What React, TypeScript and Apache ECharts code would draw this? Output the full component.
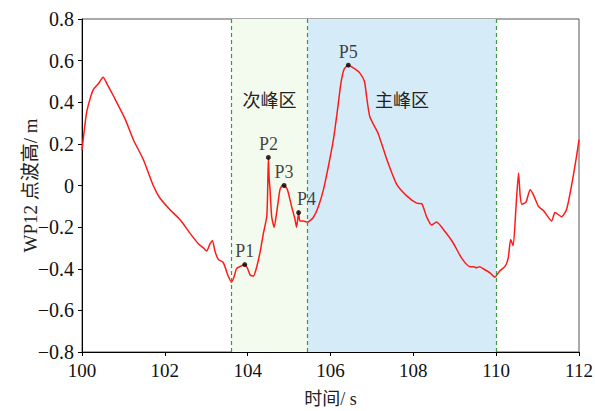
import React, { useEffect, useRef } from "react";
import * as echarts from "echarts";

const times = [
  100.0, 100.11, 100.2, 100.27, 100.4, 100.51, 100.6, 100.76, 101.04, 101.24, 101.48, 101.72, 101.88,
  102.12, 102.37, 102.61, 102.81, 102.93, 103.01, 103.09, 103.15, 103.21, 103.29, 103.41, 103.53, 103.61,
  103.67, 103.73, 103.81, 103.93, 104.0, 104.06, 104.14, 104.22, 104.3, 104.34, 104.38, 104.46, 104.48,
  104.5, 104.52, 104.54, 104.58, 104.64, 104.7, 104.78, 104.84, 104.88, 104.96, 105.06, 105.14, 105.18,
  105.21, 105.23, 105.26, 105.34, 105.44, 105.58, 105.71, 105.83, 105.95, 106.07, 106.17, 106.25, 106.33,
  106.43, 106.59, 106.71, 106.82, 106.87, 106.95, 107.15, 107.36, 107.6, 107.84, 108.08, 108.2, 108.32,
  108.44, 108.56, 108.76, 108.96, 109.17, 109.37, 109.45, 109.53, 109.6, 109.69, 109.85, 109.97, 110.09,
  110.21, 110.29, 110.35, 110.41, 110.48, 110.54, 110.58, 110.62, 110.72, 110.82, 110.9, 111.02, 111.14,
  111.34, 111.42, 111.58, 111.7, 111.82, 111.94, 112.0,
];
const elevation = [
  0.17, 0.35, 0.42, 0.46, 0.49, 0.52, 0.49, 0.43, 0.32, 0.22, 0.125, 0.0, -0.06,
  -0.115, -0.165, -0.23, -0.28, -0.3, -0.315, -0.28, -0.265, -0.315, -0.355, -0.37, -0.435, -0.465,
  -0.44, -0.4, -0.39, -0.38, -0.4, -0.43, -0.435, -0.39, -0.32, -0.275, -0.23, -0.15, -0.05,
  0.135, 0.03, -0.02, -0.15, -0.2, -0.13, -0.02, 0.0, 0.0, -0.02, -0.1, -0.16, -0.2,
  -0.16, -0.13, -0.17, -0.17, -0.176, -0.155, -0.1, -0.02, 0.093, 0.22, 0.365, 0.49, 0.56,
  0.578, 0.56, 0.54, 0.5, 0.43, 0.33, 0.25, 0.125, 0.005, -0.05, -0.085, -0.087, -0.15,
  -0.19, -0.175, -0.22, -0.275, -0.35, -0.39, -0.39, -0.395, -0.39, -0.4, -0.42, -0.44, -0.41,
  -0.39, -0.35, -0.26, -0.29, -0.1, 0.06, -0.05, -0.09, -0.08, -0.02, -0.045, -0.1, -0.12,
  -0.17, -0.13, -0.15, -0.115, 0.0, 0.14, 0.22,
];

const peakNames = ["P1", "P2", "P3", "P4", "P5"];
const peakTimes = [103.93, 104.5, 104.88, 105.23, 106.43];
const peakValues = [-0.38, 0.135, 0.0, -0.13, 0.578];

const regionNames = ["次峰区", "主峰区"];
const regionStarts = [103.6, 105.45];
const regionEnds = [105.45, 110];
const dividerTimes = [103.6, 105.45, 110];

const FONT = "'Liberation Serif', 'Times New Roman', 'Noto Sans CJK SC', serif";

export default function App() {
  const ref = useRef<HTMLDivElement>(null);
  useEffect(() => {
    if (!ref.current) return;
    const chart = echarts.init(ref.current, null, { renderer: "svg" });
    const fmtY = (v: number) => {
      const r = Math.round(v * 10) / 10;
      if (r === 0) return "0";
      return (r < 0 ? "\u2212" : "") + Math.abs(r).toFixed(1);
    };
    const regionColors = ["#f2fbee", "#d6ebf8"];
    chart.setOption({
      animation: false,
      textStyle: { fontFamily: FONT },
      grid: {
        left: 82,
        right: 16,
        top: 19,
        bottom: 59,
        containLabel: false,
        outerBoundsMode: "none",
        show: true,
        borderColor: "#555",
        borderWidth: 1,
        backgroundColor: "transparent",
      },
      xAxis: {
        type: "value",
        min: 100,
        max: 112,
        interval: 2,
        name: "时间/ s",
        nameLocation: "middle",
        nameGap: 38,
        nameMoveOverlap: false,
        nameTextStyle: { fontFamily: FONT, fontSize: 18, color: "#222" },
        axisLine: { show: true, onZero: false, lineStyle: { color: "#000", width: 1 } },
        axisTick: { show: true, inside: false, length: 4, lineStyle: { color: "#000" } },
        axisLabel: { fontFamily: FONT, fontSize: 19, color: "#111", margin: 9 },
        splitLine: { show: false },
      },
      yAxis: {
        type: "value",
        min: -0.8,
        max: 0.8,
        interval: 0.2,
        name: "WP12 点波高/ m",
        nameLocation: "middle",
        nameGap: 42,
        nameMoveOverlap: false,
        nameRotate: 90,
        nameTextStyle: { fontFamily: FONT, fontSize: 19, color: "#222" },
        axisLine: { show: true, onZero: false, lineStyle: { color: "#000", width: 1 } },
        axisTick: { show: true, inside: false, length: 4, lineStyle: { color: "#000" } },
        axisLabel: { fontFamily: FONT, fontSize: 20, color: "#111", margin: 8, formatter: fmtY },
        splitLine: { show: false },
      },
      series: [
        {
          type: "line",
          data: times.map((t, i) => [t, elevation[i]]),
          showSymbol: false,
          symbol: "none",
          smooth: 0.2,
          lineStyle: { color: "#ff1a1a", width: 1.5 },
          z: 3,
          markArea: {
            silent: true,
            data: regionNames.map((n, i) => [
              {
                name: n,
                xAxis: regionStarts[i],
                yAxis: -0.8,
                itemStyle: { color: regionColors[i] },
              },
              { xAxis: regionEnds[i], yAxis: 0.8 },
            ]),
            label: {
              show: true,
              position: "insideTop",
              distance: 73,
              fontFamily: FONT,
              fontSize: 18,
              color: "#222",
            },
          },
          markLine: {
            silent: true,
            symbol: "none",
            label: { show: false },
            lineStyle: { color: "#3b9a3b", type: [4, 3], width: 1.2 },
            data: dividerTimes.map((t) => ({ xAxis: t })),
          },
        },
        {
          type: "scatter",
          data: peakTimes.map((t, i) => ({
            value: [t, peakValues[i]],
            name: peakNames[i],
            label: i === 3 ? { offset: [8, 0] } : undefined,
          })),
          symbol: "circle",
          symbolSize: 5,
          itemStyle: { color: "#000" },
          z: 5,
          label: {
            show: true,
            position: "top",
            distance: 2,
            formatter: (p: any) => p.name,
            fontFamily: FONT,
            fontSize: 18,
            color: "#111",
          },
        },
      ],
    });
    return () => chart.dispose();
  }, []);
  return (
    <div
      ref={ref}
      style={{ position: "absolute", left: 0, top: 0, width: 595, height: 411 }}
    />
  );
}
